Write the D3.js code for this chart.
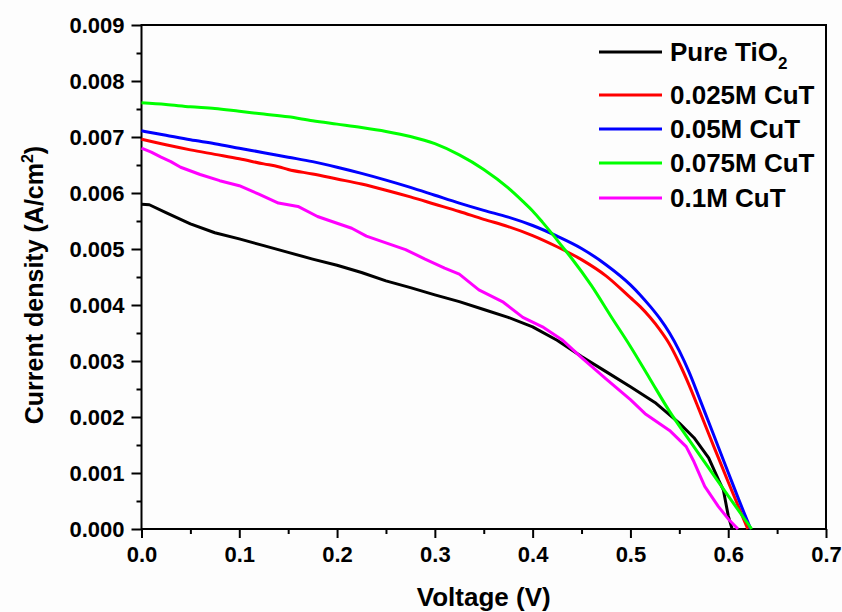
<!DOCTYPE html>
<html>
<head>
<meta charset="utf-8">
<script src="https://cdn.jsdelivr.net/npm/d3@7"></script>
<style>
  body { margin: 0; background: #fdfdfd; }
  svg { display: block; font-family: "Liberation Sans", Arial, sans-serif; font-weight: bold; }
</style>
</head>
<body>
<svg width="842" height="612"></svg>
<script>
// J-V curves, [voltage (V), current density (A/cm2)]
var pureTiO2 = [[0, 0.0058], [0.008, 0.00579], [0.025, 0.00565], [0.05, 0.00545], [0.075, 0.00529], [0.1, 0.00518],
    [0.125, 0.00506], [0.15, 0.00494], [0.175, 0.00482], [0.2, 0.00471], [0.225, 0.00458], [0.25, 0.00443],
    [0.275, 0.00431], [0.3, 0.00418], [0.325, 0.00406], [0.35, 0.00392], [0.375, 0.00378], [0.4, 0.00361],
    [0.425, 0.00337], [0.45, 0.00308], [0.475, 0.00281], [0.5, 0.00254], [0.525, 0.00226], [0.55, 0.00189],
    [0.565, 0.00163], [0.58, 0.00127], [0.59, 0.00088], [0.595, 0.0007], [0.6, 0.00024], [0.604, 0]];
var cuT025 = [[0, 0.00696], [0.025, 0.00686], [0.05, 0.00677], [0.075, 0.00669], [0.1, 0.00661], [0.125, 0.00652],
    [0.14, 0.00647], [0.15, 0.00642], [0.175, 0.00634], [0.2, 0.00625], [0.225, 0.00616], [0.25, 0.00605],
    [0.275, 0.00593], [0.3, 0.0058], [0.325, 0.00567], [0.35, 0.00553], [0.375, 0.0054], [0.4, 0.00524],
    [0.425, 0.00504], [0.45, 0.00481], [0.475, 0.00452], [0.5, 0.00413], [0.51, 0.00397], [0.52, 0.00378],
    [0.53, 0.00356], [0.54, 0.0033], [0.55, 0.00296], [0.56, 0.00257], [0.57, 0.00214], [0.58, 0.0017],
    [0.59, 0.00127], [0.6, 0.00084], [0.61, 0.00042], [0.62, 0]];
var cuT05 = [[0, 0.00711], [0.025, 0.00703], [0.05, 0.00695], [0.075, 0.00688], [0.1, 0.0068], [0.125, 0.00672],
    [0.15, 0.00664], [0.175, 0.00656], [0.2, 0.00646], [0.225, 0.00635], [0.25, 0.00623], [0.275, 0.0061],
    [0.3, 0.00596], [0.325, 0.00582], [0.35, 0.00569], [0.375, 0.00557], [0.4, 0.00542], [0.425, 0.00523],
    [0.45, 0.00501], [0.475, 0.00472], [0.5, 0.00436], [0.51, 0.00418], [0.52, 0.00398], [0.53, 0.00376],
    [0.54, 0.0035], [0.55, 0.00318], [0.56, 0.0028], [0.57, 0.00236], [0.58, 0.00191], [0.59, 0.00146],
    [0.6, 0.00101], [0.61, 0.00056], [0.623, 0]];
var cuT075 = [[0, 0.00761], [0.025, 0.00758], [0.05, 0.00754], [0.075, 0.00751], [0.1, 0.00746], [0.125, 0.00741],
    [0.15, 0.00736], [0.175, 0.00729], [0.2, 0.00723], [0.225, 0.00717], [0.25, 0.0071], [0.275, 0.00701],
    [0.3, 0.00688], [0.325, 0.00668], [0.35, 0.00642], [0.375, 0.00609], [0.39, 0.00585], [0.4, 0.00568],
    [0.41, 0.00548], [0.42, 0.00527], [0.43, 0.00505], [0.44, 0.00483], [0.46, 0.00435], [0.48, 0.0038],
    [0.5, 0.00326], [0.52, 0.00268], [0.54, 0.0021], [0.56, 0.00159], [0.58, 0.00109], [0.6, 0.00059], [0.624, 0]];
var cuT1 = [[0, 0.0068], [0.01, 0.00673], [0.02, 0.00664], [0.03, 0.00656], [0.04, 0.00646], [0.06, 0.00633],
    [0.08, 0.00622], [0.1, 0.00613], [0.12, 0.00598], [0.14, 0.00582], [0.16, 0.00576], [0.18, 0.00558],
    [0.2, 0.00546], [0.215, 0.00537], [0.23, 0.00523], [0.25, 0.00511], [0.27, 0.00499], [0.29, 0.00482],
    [0.31, 0.00466], [0.325, 0.00455], [0.345, 0.00427], [0.37, 0.00405], [0.39, 0.00378], [0.41, 0.00361],
    [0.43, 0.00338], [0.45, 0.00306], [0.475, 0.00268], [0.5, 0.00231], [0.515, 0.00206], [0.54, 0.00176],
    [0.557, 0.00147], [0.565, 0.0012], [0.576, 0.00076], [0.59, 0.0004], [0.6, 0.00018], [0.61, 0]];

var seriesNames = ["Pure TiO", "0.025M CuT", "0.05M CuT", "0.075M CuT", "0.1M CuT"];
var seriesColors = ["#000000", "#ff0000", "#0000ff", "#00ff00", "#ff00ff"];
var seriesData = [pureTiO2, cuT025, cuT05, cuT075, cuT1];
// the measured (noisier) curves are drawn as plain polylines, the rest smoothed
var seriesSmooth = [false, true, true, true, false];

var xTicks = [0, 0.1, 0.2, 0.3, 0.4, 0.5, 0.6, 0.7];
var yTicks = [0, 0.001, 0.002, 0.003, 0.004, 0.005, 0.006, 0.007, 0.008, 0.009];

var svg = d3.select("svg");
var plotLeft = 141.5, plotRight = 826, plotTop = 25, plotBottom = 529;

var x = d3.scaleLinear().domain([0, 0.7]).range([plotLeft, plotRight]);
var y = d3.scaleLinear().domain([0, 0.009]).range([plotBottom, plotTop]);

// minor ticks (midpoints between majors)
var xMinor = xTicks.slice(0, -1).map(function(d) { return d + 0.05; });
var yMinor = yTicks.slice(0, -1).map(function(d) { return d + 0.0005; });

var axisStyle = function(g) {
    g.attr("font-family", "'Liberation Sans', Arial, sans-serif");
    g.select(".domain").remove();
    g.selectAll("line").attr("stroke", "#000").attr("stroke-width", 2);
    g.selectAll("text").attr("fill", "#000").style("font-weight", "bold").style("font-size", "22px");
};

svg.append("g").attr("transform", "translate(0," + plotBottom + ")")
    .call(d3.axisBottom(x).tickValues(xMinor).tickSize(5).tickFormat(""))
    .call(axisStyle);
svg.append("g").attr("transform", "translate(0," + plotBottom + ")")
    .call(d3.axisBottom(x).tickValues(xTicks).tickSize(9).tickPadding(8).tickFormat(d3.format(".1f")))
    .call(axisStyle);

svg.append("g").attr("transform", "translate(" + plotLeft + ",0)")
    .call(d3.axisLeft(y).tickValues(yMinor).tickSize(5).tickFormat(""))
    .call(axisStyle);
svg.append("g").attr("transform", "translate(" + plotLeft + ",0)")
    .call(d3.axisLeft(y).tickValues(yTicks).tickSize(10).tickPadding(7).tickFormat(d3.format(".3f")))
    .call(axisStyle);

// frame
svg.append("rect")
    .attr("x", plotLeft).attr("y", plotTop)
    .attr("width", plotRight - plotLeft).attr("height", plotBottom - plotTop)
    .attr("fill", "none").attr("stroke", "#000").attr("stroke-width", 2);

var line = d3.line()
    .x(function(d) { return x(d[0]); })
    .y(function(d) { return y(d[1]); });
var smoothLine = d3.line()
    .curve(d3.curveMonotoneX)
    .x(function(d) { return x(d[0]); })
    .y(function(d) { return y(d[1]); });

svg.selectAll(".curve")
    .data(seriesData)
    .enter().append("path")
    .attr("class", "curve")
    .attr("d", function(d, i) { return seriesSmooth[i] ? smoothLine(d) : line(d); })
    .attr("fill", "none")
    .attr("stroke", function(d, i) { return seriesColors[i]; })
    .attr("stroke-width", 3)
    .attr("stroke-linejoin", "round");

// axis titles
svg.append("text")
    .attr("x", (plotLeft + plotRight) / 2).attr("y", 606)
    .attr("text-anchor", "middle")
    .style("font-size", "26px")
    .text("Voltage (V)");

var yTitle = svg.append("text")
    .attr("transform", "translate(43,285) rotate(-90)")
    .attr("text-anchor", "middle")
    .style("font-size", "25px");
yTitle.append("tspan").text("Current density (A/cm");
yTitle.append("tspan").attr("dy", -10).style("font-size", "16px").text("2");
yTitle.append("tspan").attr("dy", 10).text(")");

// legend
var legendY = [52, 95, 129, 163, 198];
var legend = svg.selectAll(".legend")
    .data(seriesNames)
    .enter().append("g")
    .attr("class", "legend")
    .attr("transform", function(d, i) { return "translate(599," + legendY[i] + ")"; });
legend.append("line")
    .attr("x1", 0).attr("x2", 63)
    .attr("stroke", function(d, i) { return seriesColors[i]; })
    .attr("stroke-width", 3);
var legendText = legend.append("text")
    .attr("x", 71).attr("y", 9)
    .style("font-size", "26px")
    .text(function(d) { return d; });
legendText.filter(function(d, i) { return i === 0; })
    .append("tspan").attr("dy", 8).style("font-size", "17px").text("2");
</script>
</body>
</html>
